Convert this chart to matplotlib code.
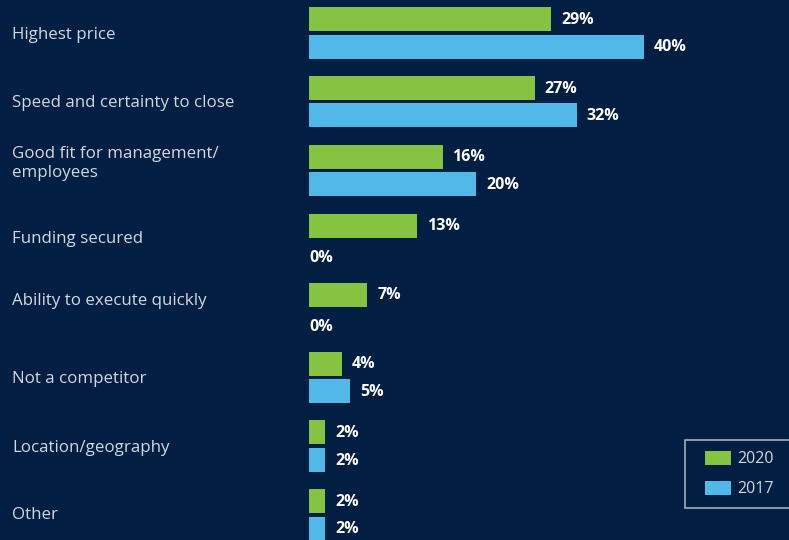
import matplotlib
matplotlib.use("Agg")
import matplotlib.pyplot as plt
from matplotlib.patches import Patch, Rectangle

categories = ["Highest price", "Speed and certainty to close",
              "Good fit for management/\nemployees", "Funding secured",
              "Ability to execute quickly", "Not a competitor",
              "Location/geography", "Other"]
vals_2020 = [29, 27, 16, 13, 7, 4, 2, 2]
vals_2017 = [40, 32, 20, 0, 0, 5, 2, 2]
series_labels = ["2020", "2017"]

BG = "#021e42"
GREEN = "#86c342"
BLUE = "#51b9ea"
TXT = "#d3d8df"
FONT = ["Open Sans", "DejaVu Sans"]

W, H, DPI = 789, 540, 100
fig = plt.figure(figsize=(W / DPI, H / DPI), dpi=DPI, facecolor=BG)
ax = fig.add_axes([0, 0, 1, 1])
ax.set_facecolor(BG)
ax.axis("off")

px_per_pct = 8.375
x0_px = 308.5
ax.set_xlim(-x0_px / px_per_pct, (W - x0_px) / px_per_pct)
group_px = 68.9
top_px = 19
ax.set_ylim((H - top_px) / group_px, -top_px / group_px)

bh = 24 / group_px
off = 27.5 / group_px
idx = list(range(len(categories)))
y_g = [i for i in idx]
y_b = [i + off for i in idx]

ax.barh(y_g, vals_2020, height=bh, color=GREEN, label=series_labels[0])
ax.barh(y_b, vals_2017, height=bh, color=BLUE, label=series_labels[1])

lab_off = 10 / px_per_pct
for ys, vs in ((y_g, vals_2020), (y_b, vals_2017)):
    for y, v in zip(ys, vs):
        if v > 0:
            x, yy = v + lab_off, y + 0.01
        else:
            x, yy = 0.05, y + 5 / group_px
        ax.text(x, yy, f"{v}%", color="white", fontsize=11.5,
                fontweight="bold", va="center", ha="left", family=FONT)

# per-label vertical nudges (px) to follow the reference layout
label_nudge_px = [2, 1, -7, 0, -7, 2, 2, 0]
tr = ax.get_yaxis_transform()
for i, c in enumerate(categories):
    ax.text(12 / W, i + off / 2 + label_nudge_px[i] / group_px, c,
            transform=tr, color=TXT, fontsize=12.2, va="center", ha="left",
            linespacing=1.18, family=FONT)

# legend frame (extends past the right edge as in the reference)
fig.patches.append(Rectangle((685 / W, 1 - 508 / H), 120 / W, 68 / H,
                             transform=fig.transFigure, facecolor=BG,
                             edgecolor="#a6adb8", linewidth=1.2, zorder=5))
handles = [Patch(facecolor=GREEN, edgecolor="none"),
           Patch(facecolor=BLUE, edgecolor="none")]
leg = fig.legend(handles, series_labels, loc="upper left",
                 bbox_to_anchor=(705 / W, 1 - 451 / H), borderaxespad=0,
                 frameon=False, prop={"family": "Open Sans", "size": 11.5},
                 labelcolor=TXT, handlelength=1.63, handleheight=0.94,
                 handletextpad=0.4, borderpad=0, labelspacing=0.85)
leg.set_zorder(6)

fig.savefig("out.png", dpi=DPI, facecolor=BG)
